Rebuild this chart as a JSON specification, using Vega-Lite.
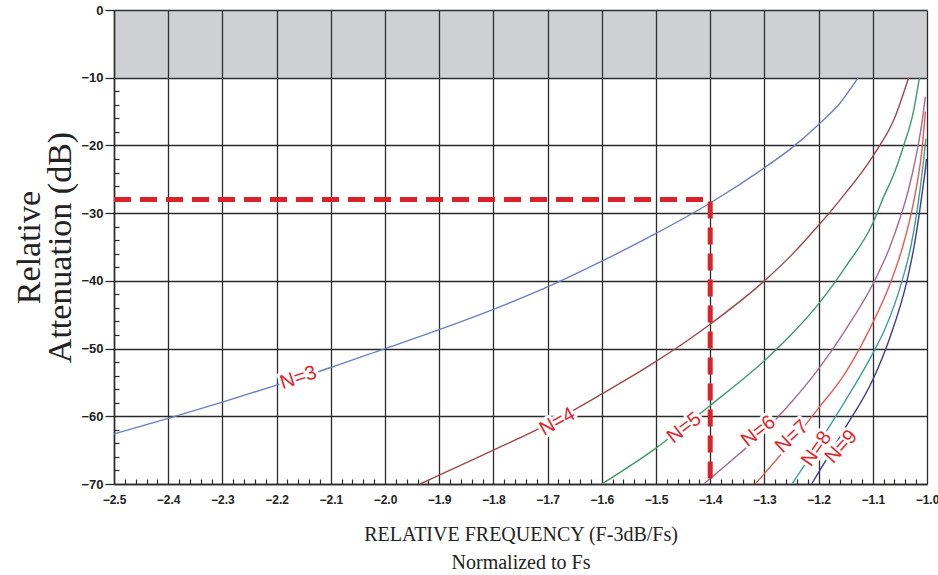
{
  "$schema": "https://vega.github.io/schema/vega-lite/v6.json",
  "width": 813,
  "height": 474,
  "autosize": {"type": "none"},
  "padding": {"left": 114, "top": 10, "right": 11, "bottom": 91},
  "background": "white",
  "config": {
    "view": {"stroke": null},
    "axis": {"labelFlush": false, "labelOverlap": false}
  },
  "datasets": {
    "band": [{"f": -2.5, "f2": -1.0, "att": 0, "att2": -10}],
    "curves": [
      {"N": "N=3", "f": -2.5, "att": -62.6}, {"N": "N=3", "f": -2.4, "att": -60.3}, {"N": "N=3", "f": -2.3, "att": -57.9},
      {"N": "N=3", "f": -2.2, "att": -55.4}, {"N": "N=3", "f": -2.1, "att": -52.8}, {"N": "N=3", "f": -2.0, "att": -50.0},
      {"N": "N=3", "f": -1.9, "att": -47.2}, {"N": "N=3", "f": -1.8, "att": -44.2}, {"N": "N=3", "f": -1.7, "att": -40.9},
      {"N": "N=3", "f": -1.6, "att": -37.1}, {"N": "N=3", "f": -1.5, "att": -33.0}, {"N": "N=3", "f": -1.4, "att": -28.5},
      {"N": "N=3", "f": -1.3, "att": -23.3}, {"N": "N=3", "f": -1.25, "att": -20.4}, {"N": "N=3", "f": -1.2, "att": -16.9},
      {"N": "N=3", "f": -1.16, "att": -13.7}, {"N": "N=3", "f": -1.127, "att": -10.0},
      {"N": "N=4", "f": -1.935, "att": -70.0}, {"N": "N=4", "f": -1.9, "att": -68.7}, {"N": "N=4", "f": -1.8, "att": -65.0},
      {"N": "N=4", "f": -1.7, "att": -61.2}, {"N": "N=4", "f": -1.6, "att": -56.7}, {"N": "N=4", "f": -1.5, "att": -51.9},
      {"N": "N=4", "f": -1.4, "att": -46.4}, {"N": "N=4", "f": -1.3, "att": -40.0}, {"N": "N=4", "f": -1.25, "att": -36.2},
      {"N": "N=4", "f": -1.2, "att": -31.8}, {"N": "N=4", "f": -1.16, "att": -28.0}, {"N": "N=4", "f": -1.1, "att": -21.6},
      {"N": "N=4", "f": -1.06, "att": -16.0}, {"N": "N=4", "f": -1.034, "att": -10.0},
      {"N": "N=5", "f": -1.6, "att": -70.0}, {"N": "N=5", "f": -1.5, "att": -64.7}, {"N": "N=5", "f": -1.4, "att": -58.4},
      {"N": "N=5", "f": -1.3, "att": -51.8}, {"N": "N=5", "f": -1.25, "att": -47.9}, {"N": "N=5", "f": -1.2, "att": -43.4},
      {"N": "N=5", "f": -1.15, "att": -37.9}, {"N": "N=5", "f": -1.1, "att": -31.5}, {"N": "N=5", "f": -1.08, "att": -27.6},
      {"N": "N=5", "f": -1.06, "att": -24.0}, {"N": "N=5", "f": -1.043, "att": -20.0}, {"N": "N=5", "f": -1.025, "att": -15.0},
      {"N": "N=5", "f": -1.014, "att": -10.0},
      {"N": "N=6", "f": -1.412, "att": -70.0}, {"N": "N=6", "f": -1.35, "att": -65.8}, {"N": "N=6", "f": -1.3, "att": -62.2},
      {"N": "N=6", "f": -1.25, "att": -57.9}, {"N": "N=6", "f": -1.2, "att": -53.0}, {"N": "N=6", "f": -1.15, "att": -47.2},
      {"N": "N=6", "f": -1.1, "att": -40.5}, {"N": "N=6", "f": -1.07, "att": -35.3}, {"N": "N=6", "f": -1.05, "att": -30.8},
      {"N": "N=6", "f": -1.035, "att": -26.8}, {"N": "N=6", "f": -1.02, "att": -21.5}, {"N": "N=6", "f": -1.01, "att": -17.0},
      {"N": "N=6", "f": -1.003, "att": -12.8},
      {"N": "N=7", "f": -1.317, "att": -70.0}, {"N": "N=7", "f": -1.25, "att": -63.8}, {"N": "N=7", "f": -1.2, "att": -58.8},
      {"N": "N=7", "f": -1.15, "att": -53.5}, {"N": "N=7", "f": -1.11, "att": -47.8}, {"N": "N=7", "f": -1.066, "att": -40.0},
      {"N": "N=7", "f": -1.045, "att": -35.0}, {"N": "N=7", "f": -1.029, "att": -30.0}, {"N": "N=7", "f": -1.018, "att": -25.5},
      {"N": "N=7", "f": -1.009, "att": -20.5}, {"N": "N=7", "f": -1.003, "att": -15.0},
      {"N": "N=8", "f": -1.249, "att": -70.0}, {"N": "N=8", "f": -1.2, "att": -64.0}, {"N": "N=8", "f": -1.15, "att": -57.6},
      {"N": "N=8", "f": -1.1, "att": -50.7}, {"N": "N=8", "f": -1.077, "att": -47.0}, {"N": "N=8", "f": -1.046, "att": -40.0},
      {"N": "N=8", "f": -1.03, "att": -35.0}, {"N": "N=8", "f": -1.02, "att": -30.5}, {"N": "N=8", "f": -1.012, "att": -26.0},
      {"N": "N=8", "f": -1.006, "att": -22.0}, {"N": "N=8", "f": -1.002, "att": -19.0},
      {"N": "N=9", "f": -1.213, "att": -70.0}, {"N": "N=9", "f": -1.2, "att": -68.3}, {"N": "N=9", "f": -1.15, "att": -61.6},
      {"N": "N=9", "f": -1.1, "att": -54.6}, {"N": "N=9", "f": -1.069, "att": -48.5}, {"N": "N=9", "f": -1.037, "att": -40.0},
      {"N": "N=9", "f": -1.024, "att": -35.0}, {"N": "N=9", "f": -1.015, "att": -30.5}, {"N": "N=9", "f": -1.008, "att": -26.5},
      {"N": "N=9", "f": -1.003, "att": -23.5}, {"N": "N=9", "f": -1.001, "att": -22.0}
    ],
    "marker": [
      {"seq": 1, "f": -2.5, "att": -28},
      {"seq": 2, "f": -1.4, "att": -28},
      {"seq": 3, "f": -1.4, "att": -70}
    ],
    "labels": [
      {"N": "N=3", "f": -2.16, "att": -54.3},
      {"N": "N=4", "f": -1.682, "att": -60.8},
      {"N": "N=5", "f": -1.448, "att": -61.7},
      {"N": "N=6", "f": -1.311, "att": -62.2},
      {"N": "N=7", "f": -1.249, "att": -63.0},
      {"N": "N=8", "f": -1.204, "att": -64.8},
      {"N": "N=9", "f": -1.158, "att": -64.5}
    ]
  },
  "resolve": {"axis": {"x": "independent", "y": "independent"}},
  "layer": [
    {
      "data": {"name": "band"},
      "mark": {"type": "rect", "fill": "#3a4452", "opacity": 0.25},
      "encoding": {
        "x": {
          "field": "f", "type": "quantitative",
          "scale": {"domain": [-2.5, -1.0], "nice": false, "zero": false},
          "axis": {
            "orient": "bottom",
            "values": [-2.5, -2.4, -2.3, -2.2, -2.1, -2.0, -1.9, -1.8, -1.7, -1.6, -1.5, -1.4, -1.3, -1.2, -1.1, -1.0],
            "format": ".1f",
            "grid": true, "gridColor": "#2a2a2a", "gridWidth": 1.3, "gridOpacity": 1,
            "ticks": false, "labelPadding": 10,
            "domain": true, "domainColor": "#2a2a2a", "domainWidth": 1.5,
            "labelFont": "Liberation Sans", "labelFontWeight": "bold", "labelFontSize": 12, "labelColor": "#222222",
            "title": ["RELATIVE FREQUENCY (F-3dB/Fs)", "Normalized to Fs"],
            "titleFont": "Liberation Serif", "titleFontWeight": "normal", "titleFontSize": 20,
            "titleColor": "#222222", "titleLineHeight": 28, "titlePadding": 19
          }
        },
        "x2": {"field": "f2"},
        "y": {
          "field": "att", "type": "quantitative",
          "scale": {"domain": [-70, 0], "nice": false, "zero": false},
          "axis": {
            "orient": "left",
            "values": [0, -10, -20, -30, -40, -50, -60, -70],
            "grid": true, "gridColor": "#2a2a2a", "gridWidth": 1.3, "gridOpacity": 1,
            "ticks": true, "tickSize": 9, "tickColor": "#2a2a2a", "tickWidth": 1.3, "labelPadding": 2,
            "domain": true, "domainColor": "#2a2a2a", "domainWidth": 1.5,
            "labelFont": "Liberation Sans", "labelFontWeight": "bold", "labelFontSize": 13, "labelColor": "#222222",
            "title": ["Relative", "Attenuation (dB)"],
            "titleFont": "Liberation Serif", "titleFontWeight": "normal", "titleFontSize": 34,
            "titleColor": "#222222", "titleLineHeight": 31, "titlePadding": 3
          }
        },
        "y2": {"field": "att2"}
      }
    },
    {
      "data": {"name": "curves"},
      "mark": {"type": "line", "strokeWidth": 1.4, "interpolate": "monotone"},
      "encoding": {
        "x": {
          "field": "f", "type": "quantitative",
          "axis": {
            "orient": "bottom", "labels": false, "grid": false, "domain": false, "title": null,
            "tickSize": -5, "tickColor": "#2a2a2a", "tickWidth": 1.2,
            "values": [-2.48,-2.46,-2.44,-2.42,-2.38,-2.36,-2.34,-2.32,-2.28,-2.26,-2.24,-2.22,-2.18,-2.16,-2.14,-2.12,-2.08,-2.06,-2.04,-2.02,-1.98,-1.96,-1.94,-1.92,-1.88,-1.86,-1.84,-1.82,-1.78,-1.76,-1.74,-1.72,-1.68,-1.66,-1.64,-1.62,-1.58,-1.56,-1.54,-1.52,-1.48,-1.46,-1.44,-1.42,-1.38,-1.36,-1.34,-1.32,-1.28,-1.26,-1.24,-1.22,-1.18,-1.16,-1.14,-1.12,-1.08,-1.06,-1.04,-1.02]
          }
        },
        "y": {
          "field": "att", "type": "quantitative",
          "axis": {
            "orient": "left", "labels": false, "grid": false, "domain": false, "title": null,
            "tickSize": -5, "tickColor": "#2a2a2a", "tickWidth": 1.2,
            "values": [-12,-14,-16,-18,-22,-24,-26,-28,-32,-34,-36,-38,-42,-44,-46,-48,-52,-54,-56,-58,-62,-64,-66,-68]
          }
        },
        "color": {
          "field": "N", "type": "nominal", "legend": null,
          "scale": {
            "domain": ["N=3", "N=4", "N=5", "N=6", "N=7", "N=8", "N=9"],
            "range": ["#6e7ec0", "#9c4a4d", "#3d9a6a", "#a46b8e", "#ec5a52", "#3e9f9c", "#3b3f8f"]
          }
        }
      }
    },
    {
      "data": {"name": "marker"},
      "mark": {"type": "line", "color": "#dc2229", "strokeWidth": 5, "strokeDash": [17, 9], "strokeCap": "butt", "strokeJoin": "miter"},
      "encoding": {
        "x": {"field": "f", "type": "quantitative", "axis": null},
        "y": {"field": "att", "type": "quantitative", "axis": null},
        "order": {"field": "seq", "type": "quantitative"}
      }
    },
    {
      "data": {"name": "labels"},
      "encoding": {
        "x": {"field": "f", "type": "quantitative", "axis": null},
        "y": {"field": "att", "type": "quantitative", "axis": null},
        "text": {"field": "N", "type": "nominal"}
      },
      "layer": [
        {"transform": [{"filter": {"field": "N", "equal": "N=3"}}], "mark": {"type": "text", "angle": -18, "font": "Liberation Sans", "fontSize": 20, "stroke": "white", "strokeWidth": 6, "strokeJoin": "round", "fill": "white"}},
        {"transform": [{"filter": {"field": "N", "equal": "N=3"}}], "mark": {"type": "text", "angle": -18, "font": "Liberation Sans", "fontSize": 20, "fill": "#e0262c"}},
        {"transform": [{"filter": {"field": "N", "equal": "N=4"}}], "mark": {"type": "text", "angle": -29, "font": "Liberation Sans", "fontSize": 20, "stroke": "white", "strokeWidth": 6, "strokeJoin": "round", "fill": "white"}},
        {"transform": [{"filter": {"field": "N", "equal": "N=4"}}], "mark": {"type": "text", "angle": -29, "font": "Liberation Sans", "fontSize": 20, "fill": "#e0262c"}},
        {"transform": [{"filter": {"field": "N", "oneOf": ["N=5", "N=6"]}}], "mark": {"type": "text", "angle": -38, "font": "Liberation Sans", "fontSize": 20, "stroke": "white", "strokeWidth": 6, "strokeJoin": "round", "fill": "white"}},
        {"transform": [{"filter": {"field": "N", "oneOf": ["N=5", "N=6"]}}], "mark": {"type": "text", "angle": -38, "font": "Liberation Sans", "fontSize": 20, "fill": "#e0262c"}},
        {"transform": [{"filter": {"field": "N", "equal": "N=7"}}], "mark": {"type": "text", "angle": -43, "font": "Liberation Sans", "fontSize": 20, "stroke": "white", "strokeWidth": 6, "strokeJoin": "round", "fill": "white"}},
        {"transform": [{"filter": {"field": "N", "equal": "N=7"}}], "mark": {"type": "text", "angle": -43, "font": "Liberation Sans", "fontSize": 20, "fill": "#e0262c"}},
        {"transform": [{"filter": {"field": "N", "equal": "N=8"}}], "mark": {"type": "text", "angle": -55, "font": "Liberation Sans", "fontSize": 20, "stroke": "white", "strokeWidth": 6, "strokeJoin": "round", "fill": "white"}},
        {"transform": [{"filter": {"field": "N", "equal": "N=8"}}], "mark": {"type": "text", "angle": -55, "font": "Liberation Sans", "fontSize": 20, "fill": "#e0262c"}},
        {"transform": [{"filter": {"field": "N", "equal": "N=9"}}], "mark": {"type": "text", "angle": -48, "font": "Liberation Sans", "fontSize": 20, "stroke": "white", "strokeWidth": 6, "strokeJoin": "round", "fill": "white"}},
        {"transform": [{"filter": {"field": "N", "equal": "N=9"}}], "mark": {"type": "text", "angle": -48, "font": "Liberation Sans", "fontSize": 20, "fill": "#e0262c"}}
      ]
    }
  ]
}
